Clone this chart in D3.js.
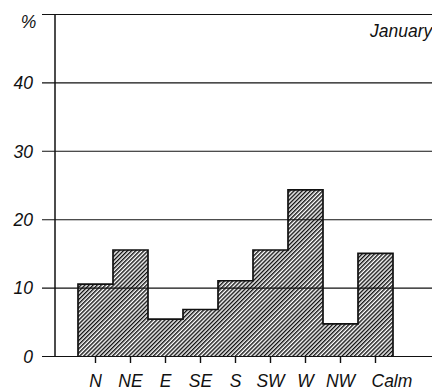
<!DOCTYPE html>
<html>
<head>
<meta charset="utf-8">
<script src="https://cdn.jsdelivr.net/npm/d3@7"></script>
<style>
  html, body { margin: 0; padding: 0; background: #fff; }
  svg { display: block; }
  text { font-family: "Liberation Sans", Arial, sans-serif; font-style: italic; fill: #111; }
</style>
</head>
<body>
<svg id="chart" width="432" height="390"></svg>
<script>
// Wind direction frequency, January (% of observations)
const directions = ["N", "NE", "E", "SE", "S", "SW", "W", "NW", "Calm"];
const frequency = [10.5, 15.5, 5.4, 6.8, 11.0, 15.5, 24.3, 4.7, 15.0];
const yTicks = [0, 10, 20, 30, 40];
const yMax = 50;
const monthLabel = "January";
const unitLabel = "%";

const svg = d3.select("#chart");
const W = 432;
const FS = 17.5;

const x = d3.scaleBand().domain(directions).range([78, 393]).padding(0);
const y = d3.scaleLinear().domain([0, yMax]).range([356, 14]);

// diagonal hatch fill
const defs = svg.append("defs");
const pat = defs.append("pattern")
  .attr("id", "hatch")
  .attr("patternUnits", "userSpaceOnUse")
  .attr("width", 2.9).attr("height", 6)
  .attr("patternTransform", "rotate(45)");
pat.append("rect").attr("width", 2.9).attr("height", 6).attr("fill", "#fff");
pat.append("line")
  .attr("x1", 0.7).attr("y1", 0).attr("x2", 0.7).attr("y2", 6)
  .attr("stroke", "#111").attr("stroke-width", 1.45);

// bars
svg.append("g").selectAll("rect")
  .data(directions)
  .join("rect")
  .attr("x", d => x(d))
  .attr("y", (d, i) => y(frequency[i]))
  .attr("width", x.bandwidth())
  .attr("height", (d, i) => y(0) - y(frequency[i]))
  .attr("fill", "url(#hatch)");

// stepped outline around the bars
const pts = [[x(directions[0]), y(0)]];
directions.forEach((d, i) => {
  pts.push([x(d), y(frequency[i])]);
  pts.push([x(d) + x.bandwidth(), y(frequency[i])]);
});
pts.push([x(directions[directions.length - 1]) + x.bandwidth(), y(0)]);
svg.append("path")
  .attr("d", d3.line()(pts))
  .attr("fill", "none")
  .attr("stroke", "#111")
  .attr("stroke-width", 1.7)
  .attr("stroke-linejoin", "miter");

// horizontal grid lines with left ticks
const yAxis = d3.axisLeft(y)
  .tickValues(yTicks.concat([yMax]))
  .tickSize(-(W - 55))
  .tickFormat(v => v === yMax ? "" : v);
const gy = svg.append("g")
  .attr("transform", "translate(55,0)")
  .call(yAxis);
gy.select(".domain").remove();
gy.selectAll(".tick line")
  .attr("x1", -13)
  .attr("stroke", "#111")
  .attr("stroke-width", 1.1);
gy.selectAll(".tick text")
  .attr("x", -22)
  .attr("dy", "0.36em")
  .attr("font-size", FS)
  .style("font-family", "'Liberation Sans', Arial, sans-serif")
  .style("font-style", "italic")
  .attr("fill", "#111");

// vertical axis line
svg.append("line")
  .attr("x1", 55).attr("x2", 55)
  .attr("y1", y(yMax)).attr("y2", y(0))
  .attr("stroke", "#111").attr("stroke-width", 1.5);

// category axis
const xAxis = d3.axisBottom(x).tickSize(7);
const gx = svg.append("g")
  .attr("transform", `translate(0,${y(0)})`)
  .call(xAxis);
gx.select(".domain").remove();
gx.selectAll(".tick line").attr("stroke", "#111").attr("stroke-width", 1.4);
gx.selectAll(".tick text")
  .attr("y", 31)
  .attr("dy", null)
  .attr("font-size", FS)
  .style("font-family", "'Liberation Sans', Arial, sans-serif")
  .style("font-style", "italic")
  .attr("fill", "#111");
// the last label sits a little to the right of its tick
gx.selectAll(".tick text").filter(d => d === "Calm")
  .attr("text-anchor", "start")
  .attr("x", -4);

// unit and month labels
svg.append("text")
  .attr("x", 28.5).attr("y", 28)
  .attr("text-anchor", "middle")
  .attr("font-size", FS)
  .text(unitLabel);
svg.append("text")
  .attr("x", 370).attr("y", 37)
  .attr("font-size", FS)
  .text(monthLabel);
</script>
</body>
</html>
